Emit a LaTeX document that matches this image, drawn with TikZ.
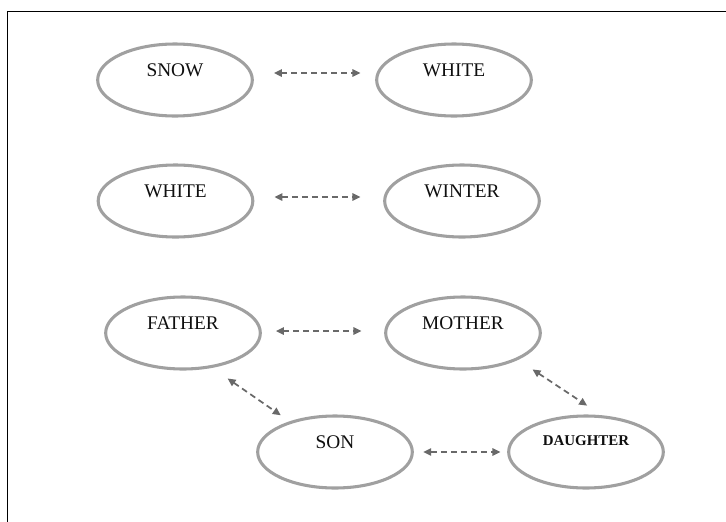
\documentclass[tikz,border=0pt]{standalone}
\usepackage{fontspec}
\setmainfont{Liberation Serif}
\usepackage{tikz}
\usetikzlibrary{arrows.meta,shapes.geometric}

\definecolor{ringgray}{RGB}{160,160,160}
\definecolor{linkgray}{RGB}{105,105,105}
\definecolor{wordgray}{RGB}{15,15,15}

\begin{document}
\begin{tikzpicture}[x=0.75pt, y=-0.75pt,
	word/.style={ellipse, draw=ringgray, line width=2.3pt, fill=none,
		minimum width=116pt, minimum height=54pt, inner sep=0pt,
		label={[text=wordgray, font=\fontsize{14.5}{16}\selectfont, yshift=7.5pt]center:#1}},
	smallword/.style={ellipse, draw=ringgray, line width=2.3pt, fill=none,
		minimum width=116pt, minimum height=54pt, inner sep=0pt,
		label={[text=wordgray, font=\fontsize{11.2}{13}\selectfont\bfseries, yshift=8.5pt]center:#1}},
	link/.style={linkgray, line width=1.3pt, dash pattern=on 4.5pt off 3pt,
		{Triangle[length=6pt, width=5.5pt]}-{Triangle[length=6pt, width=5.5pt]}}]
	
	\useasboundingbox (0,0) rectangle (726,522);
	\draw[line width=1.1pt] (7.5,522) -- (7.5,11.5) -- (726,11.5);
	
	\node [word=SNOW] (snow) at (175,80) {};
	\node [word=WHITE] (whiteA) at (454,80) {};
	\node [word=WHITE] (whiteB) at (175.5,201) {};
	\node [word=WINTER] (winter) at (462,201) {};
	\node [word=FATHER] (father) at (183,333) {};
	\node [word=MOTHER] (mother) at (463,333) {};
	\node [word=SON] (son) at (335,452) {};
	\node [smallword=DAUGHTER] (daughter) at (586,452) {};
	
	\draw [link, shorten <=15pt, shorten >=11pt] ([yshift=5.25pt]snow.east) -- ([yshift=5.25pt]whiteA.west);
	\draw [link, shorten <=15pt, shorten >=17pt] ([yshift=3pt]whiteB.east) -- ([yshift=3pt]winter.west);
	\draw [link, shorten <=10.5pt, shorten >=17pt] ([yshift=1.5pt]father.east) -- ([yshift=1.5pt]mother.west);
	\draw [link, shorten <=7pt, shorten >=5pt] (son.east) -- (daughter.west);
	\draw [link, shorten <=14pt, shorten >=8pt] (father.-50) -- (son.146);
	\draw [link, shorten <=13pt, shorten >=13pt] (mother.-26) -- (daughter.67);
	
\end{tikzpicture}
\end{document}
